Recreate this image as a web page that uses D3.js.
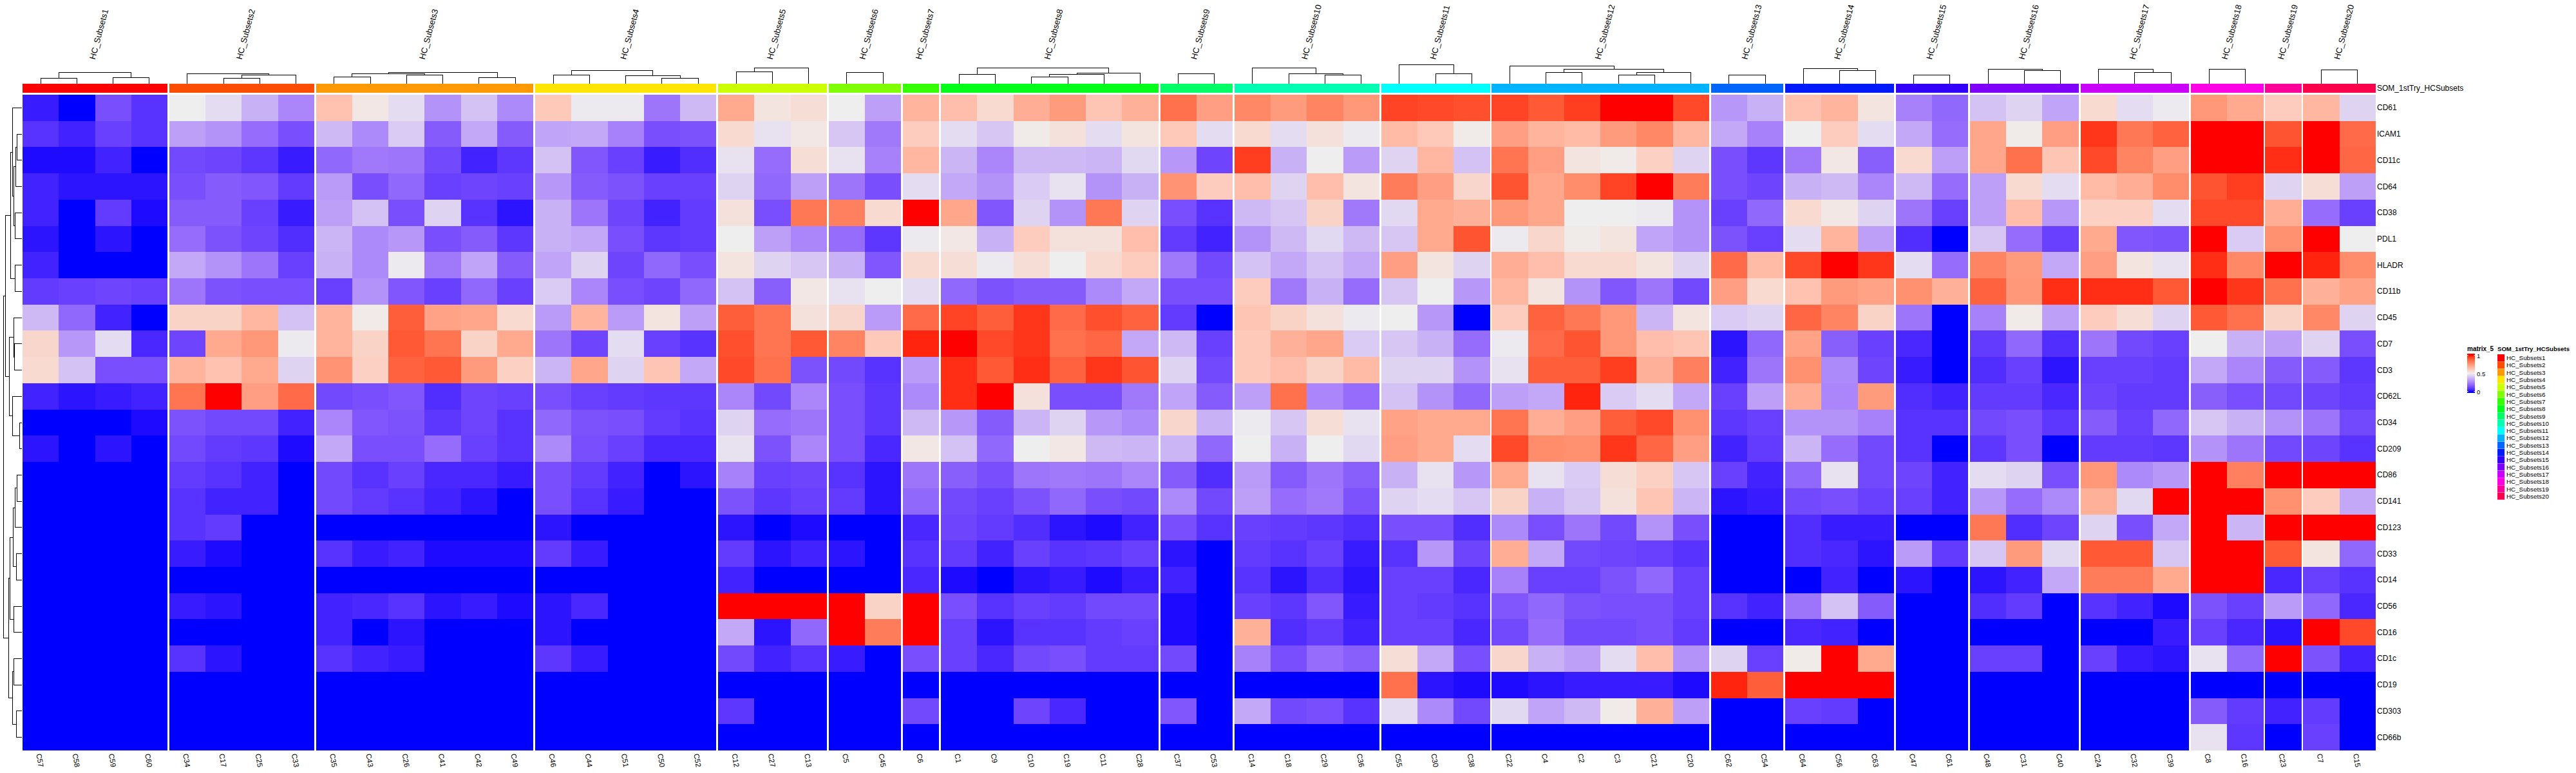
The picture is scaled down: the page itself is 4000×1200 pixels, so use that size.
<!DOCTYPE html>
<html>
<head>
<meta charset="utf-8">
<script src="https://cdn.jsdelivr.net/npm/d3@7"></script>
<style>
  body { margin: 0; background: #fff; }
  text { font-family: "Liberation Sans", Arial, sans-serif; fill: #000; }
</style>
</head>
<body>
<svg id="chart" width="4000" height="1200"></svg>
<script>
// marker names, top to bottom
const rowNames = ["CD61", "ICAM1", "CD11c", "CD64", "CD38", "PDL1", "HLADR", "CD11b", "CD45", "CD7", "CD3", "CD62L",
  "CD34", "CD209", "CD86", "CD141", "CD123", "CD33", "CD14", "CD56", "CD16", "CD1c", "CD19", "CD303", "CD66b"];

// clusters in each subset, left to right
const subsetCols = [
  ["C57", "C58", "C59", "C60"],
  ["C34", "C17", "C25", "C33"],
  ["C35", "C43", "C26", "C41", "C42", "C49"],
  ["C46", "C44", "C51", "C50", "C52"],
  ["C12", "C27", "C13"],
  ["C5", "C45"],
  ["C6"],
  ["C1", "C9", "C10", "C19", "C11", "C28"],
  ["C37", "C53"],
  ["C14", "C18", "C29", "C36"],
  ["C55", "C30", "C38"],
  ["C22", "C4", "C2", "C3", "C21", "C20"],
  ["C62", "C54"],
  ["C64", "C56", "C63"],
  ["C47", "C61"],
  ["C48", "C31", "C40"],
  ["C24", "C32", "C39"],
  ["C8", "C16"],
  ["C23"],
  ["C7", "C15"]
];

const subsetNames = ["HC_Subsets1", "HC_Subsets2", "HC_Subsets3", "HC_Subsets4", "HC_Subsets5", "HC_Subsets6", "HC_Subsets7",
  "HC_Subsets8", "HC_Subsets9", "HC_Subsets10", "HC_Subsets11", "HC_Subsets12", "HC_Subsets13", "HC_Subsets14",
  "HC_Subsets15", "HC_Subsets16", "HC_Subsets17", "HC_Subsets18", "HC_Subsets19", "HC_Subsets20"];

// R rainbow(20)
const subsetColors = ["#FF0000", "#FF4D00", "#FF9900", "#FFE500", "#CCFF00", "#80FF00", "#33FF00", "#00FF19", "#00FF66", "#00FFB2",
  "#00FFFF", "#00B3FF", "#0066FF", "#001AFF", "#3300FF", "#7F00FF", "#CC00FF", "#FF00E6", "#FF0099", "#FF004D"];

// one line per marker, same column order as subsetCols
const matrix_5 = [
  [.03,0,.13,.07, .5,.46,.36,.26, .63,.52,.46,.29,.4,.27, .61,.49,.49,.22,.38, .7,.53,.55, .5,.32, .67, .64,.56,.69,.74,.62,.68, .85,.73, .79,.74,.8,.75, .94,.93,.92, .94,.9,.95,1,1,.93, .3,.36, .63,.67,.53, .25,.19, .4,.44,.33, .56,.46,.49, .75,.7, .6, .66,.44],
  [.07,.04,.1,.07, .32,.29,.2,.13, .38,.27,.42,.16,.34,.16, .33,.34,.25,.13,.14, .56,.47,.52, .41,.23, .6, .46,.41,.51,.54,.46,.53, .61,.46, .56,.46,.54,.49, .65,.61,.51, .73,.67,.65,.74,.79,.66, .34,.25, .5,.6,.46, .34,.2, .71,.51,.73, .96,.83,.88, 1,1, .91, 1,.86],
  [.01,.01,.04,0, .12,.11,.08,.03, .19,.23,.22,.12,.04,.08, .4,.15,.1,.03,.06, .47,.2,.55, .47,.25, .66, .37,.26,.38,.38,.37,.45, .3,.11, .95,.36,.5,.31, .44,.66,.4, .84,.73,.53,.51,.59,.44, .13,.08, .23,.52,.17, .56,.32, .71,.85,.62, .93,.8,.73, 1,1, .97, 1,.87],
  [.04,.02,.02,.02, .13,.16,.15,.09, .31,.13,.19,.1,.11,.1, .3,.16,.14,.1,.1, .44,.19,.32, .22,.13, .46, .34,.29,.42,.47,.29,.36, .76,.6, .64,.44,.64,.53, .82,.73,.57, .91,.71,.78,.94,1,.82, .13,.11, .36,.38,.26, .38,.2, .32,.56,.46, .65,.69,.78, .91,.95, .44, .55,.32],
  [.04,0,.09,.01, .16,.16,.1,.03, .32,.4,.13,.44,.07,.02, .36,.22,.11,.04,.09, .54,.13,.83, .81,.56, 1, .71,.15,.44,.29,.83,.44, .13,.07, .38,.41,.58,.23, .45,.7,.68, .75,.71,.5,.5,.49,.29, .1,.19, .56,.52,.44, .22,.1, .32,.64,.3, .59,.59,.46, .93,.93, .69, .2,.1],
  [.02,0,.02,0, .2,.14,.11,.06, .37,.27,.3,.13,.16,.08, .36,.34,.13,.08,.09, .5,.32,.26, .2,.08, .49, .52,.36,.6,.54,.54,.64, .09,.04, .29,.38,.45,.38, .41,.7,.91, .49,.57,.51,.53,.33,.29, .14,.1, .46,.67,.32, .06,0, .41,.2,.1, .7,.15,.14, 1,.42, .77, 1,.5],
  [.04,0,0,0, .34,.29,.22,.1, .36,.27,.49,.23,.33,.16, .33,.44,.11,.19,.13, .53,.44,.41, .36,.15, .56, .55,.49,.55,.5,.56,.6, .23,.12, .4,.34,.4,.34, .73,.53,.44, .69,.64,.56,.56,.53,.44, .86,.65, .93,1,.96, .46,.2, .8,.74,.34, .73,.53,.47, .97,.79, 1, .98,.78],
  [.09,.1,.11,.1, .22,.14,.13,.13, .1,.29,.15,.1,.19,.1, .42,.26,.13,.11,.19, .4,.17,.52, .47,.5, .46, .19,.14,.16,.16,.27,.34, .13,.13, .6,.23,.36,.2, .41,.5,.3, .66,.53,.29,.15,.22,.12, .73,.56, .63,.74,.72, .77,.68, .88,.75,.97, .97,.97,.9, 1,.96, .85, .68,.72],
  [.38,.19,.04,0, .58,.58,.66,.4, .67,.51,.89,.72,.71,.56, .31,.67,.31,.53,.32, .89,.84,.54, .57,.31, .86, .94,.89,.96,.86,.92,.88, .09,0, .62,.58,.54,.49, .5,.3,0, .6,.88,.83,.75,.37,.53, .42,.44, .87,.8,.58, .22,0, .25,.51,.32, .6,.55,.44, .9,.85, .58, .79,.44],
  [.57,.3,.46,.05, .11,.7,.75,.49, .67,.58,.9,.84,.58,.7, .22,.11,.46,.1,.07, .92,.84,.9, .8,.61, .98, 1,.93,.96,.85,.87,.34, .38,.1, .61,.68,.71,.42, .41,.36,.2, .49,.86,.91,.75,.64,.62, .02,.19, .72,.17,.1, .05,0, .09,.19,.06, .22,.12,.1, .5,.36, .32, .44,.13],
  [.56,.4,.13,.13, .67,.63,.7,.44, .76,.59,.88,.9,.74,.59, .37,.71,.44,.62,.34, .93,.85,.14, .12,.07, .31, .97,.9,.97,.88,.96,.91, .44,.12, .61,.64,.58,.65, .44,.44,.29, .47,.89,.89,.95,.68,.81, .04,.22, .77,.27,.11, .03,0, .06,.1,.02, .1,.1,.09, .34,.26, .16, .16,.08],
  [.04,.02,.03,.04, .84,1,.73,.86, .12,.13,.15,.06,.11,.1, .13,.1,.09,.08,.08, .26,.12,.26, .13,.08, .27, .97,1,.54,.13,.13,.23, .33,.16, .32,.85,.26,.2, .4,.29,.19, .32,.34,.98,.42,.46,.34, .1,.32, .69,.26,.74, .06,.04, .09,.09,.05, .11,.09,.09, .17,.13, .12, .11,.09],
  [0,0,0,.01, .14,.12,.12,.04, .26,.15,.14,.08,.11,.07, .19,.14,.13,.09,.07, .44,.2,.22, .13,.08, .38, .3,.16,.37,.44,.3,.27, .57,.36, .49,.41,.55,.47, .72,.7,.7, .84,.69,.73,.89,.93,.77, .08,.1, .29,.29,.25, .07,.07, .12,.13,.08, .16,.1,.19, .41,.36, .29, .22,.12],
  [.02,0,.02,0, .12,.09,.08,.01, .34,.13,.13,.2,.1,.07, .27,.13,.1,.05,.05, .47,.14,.26, .13,.05, .52, .4,.19,.5,.52,.38,.37, .37,.19, .5,.36,.5,.45, .73,.7,.46, .93,.78,.77,.96,.87,.73, .04,.09, .37,.2,.12, .07,0, .08,.13,0, .09,.09,.08, .29,.22, .12, .11,.07],
  [0,0,0,0, .09,.07,.04,0, .12,.07,.1,.05,.05,.03, .13,.09,.04,0,.02, .25,.1,.11, .07,.02, .22, .17,.13,.22,.23,.22,.26, .16,.06, .31,.16,.22,.17, .36,.47,.3, .7,.47,.42,.55,.59,.41, .1,.04, .19,.47,.12, .11,.04, .46,.44,.13, .75,.27,.3, 1,.81, 1, 1,1],
  [0,0,0,0, .07,.04,.04,0, .12,.09,.07,.04,.02,0, .13,.07,.03,0,0, .14,.08,.1, .09,.02, .19, .12,.1,.14,.19,.13,.12, .27,.12, .32,.2,.23,.14, .44,.46,.41, .58,.36,.41,.54,.62,.37, .02,.03, .12,.13,.1, .1,.04, .3,.2,.27, .68,.45,1, 1,1, .77, .6,.34],
  [0,0,0,0, .07,.09,0,0, 0,0,0,0,0,0, .02,0,0,0,0, .02,0,.01, 0,0, .05, .11,.09,.06,.02,.01,.04, .13,.07, .1,.09,.08,.06, .13,.13,.06, .27,.13,.22,.12,.29,.13, 0,0, .06,.03,.03, 0,0, .83,.06,.11, .44,.13,.34, 1,.37, 1, 1,1],
  [0,0,0,0, .03,.01,0,0, .07,.03,.04,.01,.01,.01, .09,.03,0,0,0, .09,.02,.04, .02,0, .07, .09,.04,.1,.07,.08,.1, .02,0, .09,.07,.1,.03, .07,.3,.11, .69,.34,.12,.11,.1,.07, 0,0, .06,.05,.02, .31,.09, .41,.74,.45, .9,.9,.41, 1,1, .9, .53,.19],
  [0,0,0,0, 0,0,0,0, 0,0,0,0,0,0, 0,0,0,0,0, .04,0,0, 0,0, .05, .01,0,.02,.03,.01,.03, .04,0, .07,.02,.06,.02, .1,.1,.05, .25,.1,.1,.14,.19,.1, 0,0, 0,.04,0, .02,0, .02,.04,.34, .82,.82,.7, 1,1, .05, .1,.07],
  [0,0,0,0, .03,.02,0,0, .04,.05,.07,.02,.03,.01, .02,.05,0,0,0, 1,1,1, 1,.58, 1, .13,.07,.1,.09,.12,.12, .01,0, .1,.08,.15,.03, .1,.09,.07, .15,.19,.14,.13,.13,.1, .07,.04, .22,.4,.16, 0,0, .06,.09,0, .07,.04,.01, .14,.1, .31, .19,.05],
  [0,0,0,0, 0,0,0,0, .04,0,.02,0,0,0, .02,0,0,0,0, .34,.02,.19, 1,.82, 1, .1,.02,.07,.07,.09,.1, .01,0, .68,.06,.09,.04, .1,.1,.05, .12,.2,.12,.12,.13,.09, 0,0, .05,.04,0, 0,0, 0,0,0, 0,0,.03, .1,.05, .02, 1,.93],
  [0,0,0,0, .07,.02,0,0, .07,.04,.03,0,0,0, .08,.03,0,0,0, .12,.04,.07, .03,0, .13, .1,.05,.12,.13,.09,.09, .12,0, .25,.13,.2,.17, .55,.34,.13, .57,.36,.32,.46,.64,.29, .44,.1, .51,1,.7, 0,0, .1,.1,0, .1,.03,.02, .47,.19, 1, .14,.04],
  [0,0,0,0, 0,0,0,0, 0,0,0,0,0,0, 0,0,0,0,0, 0,0,0, 0,0, 0, 0,0,0,0,0,0, 0,0, 0,0,0,0, .85,.02,.01, .01,.02,.03,.03,.03,.01, .98,.89, 1,1,1, 0,0, 0,0,0, 0,0,0, 0,0, 0, 0,0],
  [0,0,0,0, 0,0,0,0, 0,0,0,0,0,0, 0,0,0,0,0, .08,0,0, 0,0, .12, 0,0,.11,.05,0,0, .15,0, .34,.12,.13,.07, .46,.27,.12, .45,.33,.38,.51,.68,.32, 0,0, .1,.09,0, 0,0, 0,0,0, 0,0,0, .16,.09, .04, .09,0],
  [0,0,0,0, 0,0,0,0, 0,0,0,0,0,0, 0,0,0,0,0, 0,0,0, 0,0, 0, 0,0,0,0,0,0, 0,0, 0,0,0,0, 0,0,0, 0,0,0,0,0,0, 0,0, 0,0,0, 0,0, 0,0,0, 0,0,0, .47,.08, 0, .1,0]
];

// dendrograms: [merge height, child, child], a child is a label or another merge. heights are 0-1 of the dendro track
const colTrees = [
  [.57, [.3, "C57", "C58"], [.33, "C59", "C60"]],
  [.53, "C34", [.46, [.29, "C17", "C25"], "C33"]],
  [.59, [.53, [.36, "C35", "C43"], [.46, "C26", "C41"]], [.32, "C42", "C49"]],
  [.69, [.46, "C46", "C44"], [.42, "C51", [.29, "C50", "C52"]]],
  [.83, [.63, "C12", "C27"], "C13"],
  [.59, "C5", "C45"],
  null,
  [.83, [.49, "C1", "C9"], [.56, [.49, [.36, "C10", "C19"], "C11"], "C28"]],
  [.53, "C37", "C53"],
  [.83, "C14", [.53, "C18", [.46, "C29", "C36"]]],
  [1, "C55", [.53, "C30", "C38"]],
  [.92, "C22", [.76, [.59, "C4", "C2"], [.59, [.46, "C3", "C21"], "C20"]]],
  [.46, "C62", "C54"],
  [.79, "C64", [.69, "C56", "C63"]],
  [.46, "C47", "C61"],
  [.76, "C48", [.69, "C31", "C40"]],
  [.76, "C24", [.59, "C32", "C39"]],
  [.76, "C8", "C16"],
  null,
  [.73, "C7", "C15"]
];

const rowTree = [1,
  [.9,
    [.62,
      [.52, "CD61", [.45, [.345, [.276, "ICAM1", "CD11c"], "CD64"], [.38, "CD38", "PDL1"]]],
      [.38, "HLADR", "CD11b"]],
    [.69,
      [.45, "CD45", [.41, "CD7", "CD3"]],
      [.52, "CD62L", [.14, "CD34", "CD209"]]]],
  [.72,
    [.655,
      [.48, [.38, [.276, "CD86", "CD141"], "CD123"], [.31, "CD33", "CD14"]],
      [.45, "CD56", "CD16"]],
    [.52,
      [.45, "CD1c", "CD19"],
      [.31, "CD303", "CD66b"]]]
];

const legendTicks = [0, 0.5, 1];

const svg = d3.select("#chart");

// layout
const heatLeft = 35, heatRight = 3689, heatTop = 147, heatBottom = 1165, gap = 2.8;
const barTop = 130, barBottom = 144, dendTop = 100;
const rowDendLeft = 5.3, rowDendRight = 34.3;

const heatColor = d3.scaleLinear().domain([0, 0.5, 1]).range(["blue", "#EEEEEE", "red"])
  .interpolate(d3.interpolateLab).clamp(true);

const y = d3.scaleBand().domain(rowNames).range([heatTop, heatBottom]);

// one band scale per subset
const nCols = d3.sum(subsetCols, d => d.length);
const unit = (heatRight - heatLeft - gap * (subsetCols.length - 1)) / nCols;
let cursor = heatLeft;
const subsetScales = subsetCols.map(cols => {
  const w = cols.length * unit;
  const s = d3.scaleBand().domain(cols).range([cursor, cursor + w]);
  cursor += w + gap;
  return s;
});
const colX = {};
subsetScales.forEach(s => s.domain().forEach(c => { colX[c] = s(c) + s.bandwidth() / 2; }));

// heatmap cells
const cells = [];
let colIdx = 0;
subsetCols.forEach((cols, i) => {
  cols.forEach(c => {
    rowNames.forEach((r, j) => {
      cells.push({ x: subsetScales[i](c), w: subsetScales[i].bandwidth(), row: r, value: matrix_5[j][colIdx] });
    });
    colIdx++;
  });
});

svg.append("g").attr("shape-rendering", "crispEdges")
  .selectAll("rect").data(cells).enter().append("rect")
  .attr("x", d => d.x)
  .attr("y", d => y(d.row))
  .attr("width", d => d.w)
  .attr("height", y.bandwidth())
  .attr("fill", d => heatColor(d.value));

// annotation bar
svg.append("g").attr("shape-rendering", "crispEdges")
  .selectAll("rect").data(subsetScales).enter().append("rect")
  .attr("x", d => d.range()[0])
  .attr("y", barTop)
  .attr("width", d => d.range()[1] - d.range()[0])
  .attr("height", barBottom - barTop)
  .attr("fill", (d, i) => subsetColors[i]);

svg.append("text")
  .attr("x", heatRight + 2).attr("y", (barTop + barBottom) / 2)
  .attr("dominant-baseline", "central")
  .style("font-size", "12px")
  .text("SOM_1stTry_HCSubsets");

// slice titles
svg.append("g").selectAll("text").data(subsetNames).enter().append("text")
  .attr("transform", (d, i) => {
    const r = subsetScales[i].range();
    return `translate(${(r[0] + r[1]) / 2},93) rotate(-75)`;
  })
  .style("font-size", "13px")
  .text(d => d);

// row and column labels
svg.append("g").selectAll("text").data(rowNames).enter().append("text")
  .attr("x", heatRight + 2)
  .attr("y", d => y(d) + y.bandwidth() / 2)
  .attr("dominant-baseline", "central")
  .style("font-size", "12px")
  .text(d => d);

svg.append("g").selectAll("text").data(subsetCols.flat()).enter().append("text")
  .attr("transform", d => `translate(${colX[d] - 3},1170) rotate(80)`)
  .attr("dominant-baseline", "central")
  .style("font-size", "11.5px")
  .text(d => d);

// dendrograms
const colH = d3.scaleLinear().domain([0, 1]).range([barTop, dendTop]);
const rowH = d3.scaleLinear().domain([0, 1]).range([rowDendRight, rowDendLeft]);

// draws a merge and returns its position along the leaf axis
function drawNode(path, node, leafPos, h, vertical) {
  if (typeof node === "string") return { pos: leafPos(node), height: h(0) };
  const a = drawNode(path, node[1], leafPos, h, vertical);
  const b = drawNode(path, node[2], leafPos, h, vertical);
  const v = h(node[0]);
  if (vertical) {
    path.moveTo(a.pos, a.height); path.lineTo(a.pos, v); path.lineTo(b.pos, v); path.lineTo(b.pos, b.height);
  } else {
    path.moveTo(a.height, a.pos); path.lineTo(v, a.pos); path.lineTo(v, b.pos); path.lineTo(b.height, b.pos);
  }
  return { pos: (a.pos + b.pos) / 2, height: v };
}

const colPath = d3.path();
colTrees.forEach(t => { if (t) drawNode(colPath, t, c => colX[c], colH, true); });
svg.append("path").attr("d", colPath.toString())
  .attr("fill", "none").attr("stroke", "#000").attr("stroke-width", 1).attr("shape-rendering", "crispEdges");

const rowPath = d3.path();
drawNode(rowPath, rowTree, r => y(r) + y.bandwidth() / 2, rowH, false);
svg.append("path").attr("d", rowPath.toString())
  .attr("fill", "none").attr("stroke", "#000").attr("stroke-width", 1).attr("shape-rendering", "crispEdges");

// colour legend
const legX = 3831, legW = 12;
const legY = d3.scaleLinear().domain([0, 1]).range([607.7, 551.7]);
const legG = svg.append("g");

legG.append("text").attr("x", legX).attr("y", 545)
  .style("font-size", "10px").style("font-weight", "bold").text("matrix_5");

legG.append("g").attr("shape-rendering", "crispEdges")
  .selectAll("rect").data(d3.range(549, 610)).enter().append("rect")
  .attr("x", legX).attr("y", d => d).attr("width", legW).attr("height", 1.2)
  .attr("fill", d => heatColor(legY.invert(d + 0.5)));

legendTicks.forEach(t => {
  legG.append("path")
    .attr("d", `M${legX},${legY(t)}h1.8M${legX + legW - 1.8},${legY(t)}h1.8`)
    .attr("stroke", "#fff").attr("stroke-width", 1);
  legG.append("text").attr("x", legX + legW + 3).attr("y", legY(t) + 0.8)
    .attr("dominant-baseline", "central")
    .style("font-size", "9.5px").text(t);
});

// subset legend
const subX = 3878, subSize = 11;
const subY = d3.scaleBand().domain(subsetNames).range([550, 776]);
const subG = svg.append("g");

subG.append("text").attr("x", subX).attr("y", 545)
  .style("font-size", "9.6px").style("font-weight", "bold").text("SOM_1stTry_HCSubsets");

subG.selectAll("rect").data(subsetNames).enter().append("rect")
  .attr("x", subX).attr("y", d => subY(d)).attr("width", subSize).attr("height", subY.bandwidth() - 0.3)
  .attr("fill", (d, i) => subsetColors[i]);

subG.selectAll("text.lab").data(subsetNames).enter().append("text")
  .attr("class", "lab")
  .attr("x", subX + subSize + 3)
  .attr("y", d => subY(d) + subY.bandwidth() / 2)
  .attr("dominant-baseline", "central")
  .style("font-size", "9.8px")
  .text(d => d);
</script>
</body>
</html>
